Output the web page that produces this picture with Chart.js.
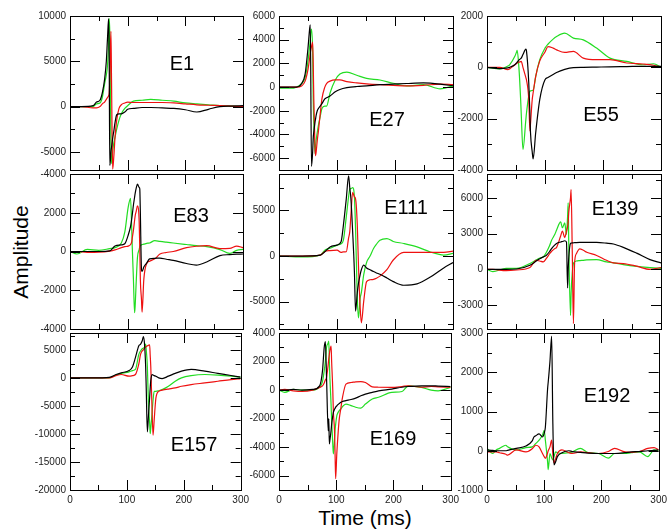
<!DOCTYPE html>
<html>
<head>
<meta charset="utf-8">
<script src="https://cdn.jsdelivr.net/npm/chart.js@4.4.0/dist/chart.umd.min.js"></script>
<style>
  body { margin: 0; background: #fff; width: 667px; height: 529px; position: relative; overflow: hidden;
         font-family: "Liberation Sans", Arial, sans-serif; }
  canvas { position: absolute; }
  .lab { position: absolute; font-size: 20px; line-height: 20px; color: #000; transform: translate(-50%, -50%); white-space: nowrap; }
  .axis { position: absolute; font-size: 21px; line-height: 21px; color: #000; white-space: nowrap; }
</style>
</head>
<body>
<div class="axis" style="left:20px;top:252px;transform:translate(-50%,-50%) rotate(-90deg)">Amplitude</div>
<div class="axis" style="left:365px;top:517px;transform:translate(-50%,-50%)">Time (ms)</div>
<script>
// ---- data (time in ms, amplitude) ----
const xTicks = [0, 100, 200, 300];

const e1Time  = [0, 20, 40, 46, 52, 56, 60, 63, 65, 67, 68, 69, 70, 71, 72, 73, 74, 76, 78, 81, 85, 89, 95, 100, 110, 125, 140, 160, 180, 200, 220, 240, 260, 280, 300];
const e1Black = [0, 0, 100, 500, 700, 1500, 3000, 5000, 7500, 9700, 5000, -6500, -6000, -5000, -4500, -4000, -3500, -2700, -1800, -900, -800, -800, -600, -300, -200, -100, -100, -150, -200, -350, -600, -300, 0, 50, 100];
const e1Red   = [0, 0, -150, -150, 0, 300, 500, 800, 1000, 1200, 1500, 3000, 6000, 8300, 3000, -3000, -6900, -5500, -3500, -1500, -200, 200, 400, 500, 450, 450, 450, 450, 400, 300, 200, 150, 100, 50, 0];
const e1Green = [0, 0, 0, 300, 400, 1000, 2500, 3500, 4500, 7000, 9700, 8000, 2000, -4000, -6300, -6000, -5000, -4000, -3400, -2500, -1500, -800, -200, 100, 600, 700, 800, 700, 600, 400, 300, 200, 100, 50, 0];

const e27Time  = [0, 20, 30, 39, 45, 50, 53, 54, 56, 58, 59, 60, 62, 63, 64, 66, 68, 71, 74, 79, 82, 88, 97, 105, 117, 134, 151, 174, 197, 220, 249, 278, 300];
const e27Black = [0, 0, 0, 300, 1100, 3300, 5000, 5250, -6700, -5500, -4300, -3800, -3000, -2700, -2400, -2000, -1800, -1600, -1400, -1000, -900, -750, -400, -200, -50, 50, 100, 200, 250, 300, 350, 250, 100];
const e27Red   = [0, 0, 0, 100, 500, 1500, 2500, 2900, 3400, 3800, 2000, -1000, -5000, -5800, -5500, -4500, -3700, -2300, -1000, 0, 300, 500, 600, 600, 460, 350, 270, 200, 150, 100, 150, 250, 200];
const e27Green = [-100, -100, 0, 300, 800, 2200, 3500, 4000, 4900, 3000, -1000, -3000, -5600, -5000, -4500, -3800, -3200, -2500, -1800, -1600, -1600, -500, 600, 1100, 1270, 1000, 730, 600, 320, 100, 200, -150, 100];

const e55Time  = [0, 22, 36, 39, 48, 51, 52, 55, 58, 59, 62, 67, 68, 72, 74, 75, 78, 79.5, 84, 91, 100, 105, 114, 120, 134, 149, 166, 189, 212, 241, 269, 287, 300];
const e55Black = [0, -50, -20, 0, 100, 170, 200, 280, 340, 360, 500, 710, 650, -600, -1800, -2540, -3300, -3570, -2540, -1250, -480, -400, -280, -200, -80, -10, 0, 10, 20, 30, 40, 40, 40];
const e55Red   = [0, 0, -90, -60, 100, 150, 170, 200, 220, 230, 0, -400, -480, -1250, -2480, -2200, -1250, -1000, -350, 250, 600, 810, 750, 680, 580, 620, 360, 300, 300, 170, 130, 80, 0];
const e55Green = [0, -60, 50, 100, 430, 600, 660, 0, -1250, -1800, -3200, -2030, -1800, -1100, -930, -920, -900, -900, -350, 300, 750, 900, 1100, 1200, 1330, 1140, 1070, 750, 360, 230, 100, 140, 0];

const e83Time  = [0, 12, 30, 50, 69, 78, 89, 95, 101, 105, 107, 108, 110, 112, 113, 115, 117, 120, 121, 122, 124, 125, 128, 133, 138, 147, 156, 167, 179, 202, 219, 237, 260, 277, 289, 300];
const e83Black = [0, 0, 0, 0, 30, 280, 340, 400, 850, 1300, 1670, 1900, 2400, 2800, 3000, 3300, 3480, 3300, 3230, 2000, -950, -1030, -800, -600, -380, -350, -340, -400, -460, -620, -700, -540, -210, -160, -140, -130];
const e83Red   = [0, 0, -50, -40, 20, 80, 200, 250, 280, 360, 500, 700, 1100, 1600, 1840, 2100, 2360, 1500, 200, -1440, -2500, -3130, -1440, -620, -500, -380, -130, -50, 0, 200, 270, 300, 150, 160, 280, 200];
const e83Green = [0, -130, 110, 60, 150, 200, 440, 1000, 2300, 2740, 1200, 200, -1440, -3160, -2800, -1440, -300, 110, 250, 300, 350, 360, 380, 420, 440, 560, 520, 480, 440, 360, 300, 250, 100, -100, 60, 110];

const e111Time  = [0, 40, 71, 79, 88, 100, 107, 111, 116, 120, 122, 124, 127, 130, 132, 135, 137, 140, 142, 146, 151, 157, 163, 168, 174, 186, 197, 215, 238, 261, 284, 300];
const e111Black = [0, 0, 100, 470, 1000, 1200, 1560, 3370, 6270, 8800, 7500, 6270, 2650, -1700, -6050, -4000, -3000, -2000, -1500, -1000, -1300, -1500, -1700, -1850, -2000, -2400, -2800, -3200, -3050, -2300, -1300, -720];
const e111Red   = [0, 0, 100, 500, 600, 650, 400, 450, 470, 2000, 2650, 4500, 7000, 6500, 6270, 3370, -980, -5700, -7320, -5000, -2800, -2600, -2550, -2430, -2200, -1500, -430, 400, 400, 400, 400, 540];
const e111Green = [0, -100, 100, 650, 850, 1200, 1350, 1740, 4300, 6500, 7350, 7400, 7500, 6500, 3000, -4600, -6780, -4600, -4000, -2070, -700, 0, 830, 1300, 1740, 1920, 1600, 1380, 1010, 450, 110, 290];

const e139Time  = [0, 10, 33, 51, 74, 85, 91, 97, 102, 108, 111, 117, 120, 127, 130, 134, 137, 139, 140, 141, 144, 145, 147, 149, 151, 154, 160, 166, 172, 189, 206, 218, 235, 258, 281, 300];
const e139Black = [0, 0, 0, 30, 350, 700, 900, 1050, 1170, 1500, 1720, 2050, 2180, 2300, 2340, 2400, 2300, -1550, 0, 1000, 2180, 2200, 2220, 2230, 2240, 2250, 2260, 2260, 2260, 2260, 2200, 2130, 1850, 1360, 820, 540];
const e139Red   = [0, 0, -110, -50, 160, 760, 700, 630, 900, 1310, 1500, 1750, 1850, 2800, 3220, 2670, 3200, 3600, 4000, 4800, 6000, 6700, 1500, -4550, 490, 1310, 1720, 1600, 1440, 1170, 760, 540, 490, 270, 0, 160];
const e139Green = [0, -190, 80, 80, 490, 800, 950, 1040, 1400, 2000, 2400, 2940, 3300, 3980, 3490, 3900, 2940, 4500, 5590, 2000, -3870, -2000, -300, 500, 630, 700, 740, 760, 790, 820, 630, 550, 400, 250, 150, 80];

const e157Time  = [0, 40, 69, 81, 90, 104, 110, 115, 121, 124, 127, 129, 131, 133, 134, 136, 138, 140, 141, 142, 144, 146, 148, 151, 156, 162, 173, 185, 196, 213, 237, 260, 283, 300];
const e157Black = [0, 0, 100, 600, 900, 1300, 2000, 3610, 5720, 6000, 6630, 7350, 6000, 2000, -1800, -9640, -6600, -3500, -1800, -500, 600, 500, 400, 300, 0, -120, 300, 800, 1200, 1500, 1200, 800, 420, 120];
const e157Red   = [0, 0, 0, 400, 600, 300, 400, 600, 2500, 4200, 4800, 5000, 5300, 5500, 5600, 5700, 5800, 5900, 4000, 2000, -4800, -10240, -7500, -3600, -2400, -2200, -2000, -1800, -1500, -1200, -900, -600, -300, -120];
const e157Green = [0, 0, 0, 500, 800, 1080, 1300, 1500, 4200, 4800, 5200, 5300, 5500, 6020, 5000, 2000, -4800, -8000, -9940, -9000, -6600, -4000, -2400, -2400, -2300, -2100, -1500, -600, 0, 400, 600, 500, 300, 100];

const e169Time  = [0, 10, 25, 40, 59, 71, 76, 79, 81, 83, 86, 87, 88, 89, 91, 92, 94, 95, 97, 98, 99, 101, 102, 105, 108, 111, 117, 126, 134, 143, 151, 163, 174, 197, 215, 226, 249, 266, 278, 300];
const e169Black = [0, 0, 50, 0, 50, 300, 1350, 2980, 3400, 1000, -2840, -2000, -3770, -3500, -2840, -2400, -1800, -1560, -1350, -1280, -1200, -1100, -1050, -950, -860, -800, -740, -660, -560, -400, -280, -160, -50, 70, 200, 250, 300, 300, 280, 250];
const e169Red   = [0, 50, -50, -100, 0, 190, 300, 500, 700, 880, 1800, 2200, 2510, 2800, 3090, 2000, 0, -1500, -2840, -4500, -6210, -4470, -3800, -2140, -1300, -510, 420, 530, 580, 600, 530, 230, 200, 190, 250, 300, 200, 250, 230, 200];
const e169Green = [0, -160, 50, 0, 0, 200, 600, 1350, 2000, 2980, 3300, 3440, 2000, 800, -1000, -2140, -3800, -4470, -3500, -2840, -2400, -1800, -1670, -1450, -1330, -1150, -980, -1090, -1200, -1260, -980, -630, -500, -160, -100, 300, 190, 0, -50, 190];

const e192Time  = [0, 10, 16, 22, 33, 36, 51, 68, 79, 82, 85, 91, 97, 100, 102, 106, 107, 110, 113, 115, 117, 120, 123, 131, 143, 149, 163, 177, 195, 212, 223, 241, 252, 266, 281, 292, 300];
const e192Black = [20, 10, 0, 0, 0, 10, 60, 120, 250, 350, 380, 430, 350, 450, 600, 1600, 1750, 2270, 2920, 770, -360, -280, -150, -50, 0, -20, -40, -60, -70, -70, -70, -50, -30, -20, 0, 10, 20];
const e192Red   = [-30, -30, -30, -50, -90, -110, 20, -30, 50, 100, 140, 100, -70, -150, -190, -50, 0, 100, 270, -70, -310, -200, -70, 20, -50, -70, -30, -50, -70, -20, 60, -30, -40, -20, 60, 80, 20];
const e192Green = [60, -70, 20, 60, 140, 100, 20, 80, 100, 130, 180, 270, 400, 520, 270, -300, -480, -70, -180, -230, -150, -30, -50, -70, -50, -30, 60, -50, -70, -190, -70, -70, -50, -30, -150, 20, 0];

const panels = [
  { name: 'E1',   time: e1Time,   black: e1Black,   red: e1Red,   green: e1Green,   yMin: -7000,  yMax: 10000, major: 5000, minor: 2500 },
  { name: 'E27',  time: e27Time,  black: e27Black,  red: e27Red,  green: e27Green,  yMin: -7000,  yMax: 6000,  major: 2000, minor: 1000 },
  { name: 'E55',  time: e55Time,  black: e55Black,  red: e55Red,  green: e55Green,  yMin: -4000,  yMax: 2000,  major: 2000, minor: 1000 },
  { name: 'E83',  time: e83Time,  black: e83Black,  red: e83Red,  green: e83Green,  yMin: -4000,  yMax: 4000,  major: 2000, minor: 1000, topText: '-4000' },
  { name: 'E111', time: e111Time, black: e111Black, red: e111Red, green: e111Green, yMin: -8000,  yMax: 9000,  major: 5000, minor: 2500 },
  { name: 'E139', time: e139Time, black: e139Black, red: e139Red, green: e139Green, yMin: -5000,  yMax: 8000,  major: 3000, minor: 1500 },
  { name: 'E157', time: e157Time, black: e157Black, red: e157Red, green: e157Green, yMin: -20000, yMax: 8000,  major: 5000, minor: 2500 },
  { name: 'E169', time: e169Time, black: e169Black, red: e169Red, green: e169Green, yMin: -7000,  yMax: 4000,  major: 2000, minor: 1000 },
  { name: 'E192', time: e192Time, black: e192Black, red: e192Red, green: e192Green, yMin: -1000,  yMax: 3000,  major: 1000, minor: 500 }
];

// ---- layout (page pixels) ----
const colL = [70, 279, 487], colR = [243, 453, 661];
const rowT = [14, 172, 331], rowB = [172, 331, 490];
const labelPos = [[182, 63], [387, 119], [601, 114], [191, 215], [406, 207], [615, 208], [194, 444], [393, 438], [607, 395]];

const tickFont = { family: '"Liberation Sans", Arial, sans-serif', size: 10 };

// box + inward ticks on all four sides
const frame = {
  id: 'frame',
  afterDatasetsDraw(chart) {
    const { ctx, chartArea: a, scales: { x, y } } = chart;
    const p = chart.options.plugins.frame;
    ctx.save();
    ctx.strokeStyle = '#000';
    ctx.lineWidth = 1;
    ctx.beginPath();
    for (let t = 0; t <= 300; t += 50) {
      const px = Math.round(x.getPixelForValue(t)) + 0.5;
      const len = t % 100 === 0 ? 10 : 5;
      ctx.moveTo(px, a.top); ctx.lineTo(px, a.top + len);
      ctx.moveTo(px, a.bottom); ctx.lineTo(px, a.bottom - len);
    }
    for (let v = Math.ceil(p.yMin / p.minor) * p.minor; v <= p.yMax; v += p.minor) {
      const py = Math.round(y.getPixelForValue(v)) + 0.5;
      const len = v % p.major === 0 ? 10 : 5;
      ctx.moveTo(a.left, py); ctx.lineTo(a.left + len, py);
      ctx.moveTo(a.right, py); ctx.lineTo(a.right - len, py);
    }
    ctx.stroke();
    ctx.strokeRect(Math.round(a.left) + 0.5, Math.round(a.top) + 0.5, Math.round(a.right - a.left), Math.round(a.bottom - a.top));
    ctx.restore();
  }
};

panels.forEach((p, i) => {
  const c = i % 3, r = Math.floor(i / 3);
  const last = r === 2;
  const axisW = 50, padR = 10, padT = 8, xAxisH = 20;
  const L = colL[c], R = colR[c], T = rowT[r], B = rowB[r];

  const cv = document.createElement('canvas');
  cv.width = R - L + axisW + padR;
  cv.height = B - T + padT + (last ? xAxisH + 2 : 8);
  cv.style.left = (L - axisW) + 'px';
  cv.style.top = (T - padT) + 'px';
  document.body.appendChild(cv);

  const lab = document.createElement('div');
  lab.className = 'lab';
  lab.textContent = p.name;
  lab.style.left = labelPos[i][0] + 'px';
  lab.style.top = labelPos[i][1] + 'px';
  document.body.appendChild(lab);

  const yVals = [];
  for (let v = Math.ceil(p.yMin / p.major) * p.major; v <= p.yMax; v += p.major) yVals.push(v);

  const pts = arr => p.time.map((t, k) => ({ x: t, y: arr[k] }));

  new Chart(cv, {
    type: 'line',
    data: {
      datasets: [
        { data: pts(p.black), borderColor: '#000000' },
        { data: pts(p.red),   borderColor: '#ee1111' },
        { data: pts(p.green), borderColor: '#22dd22' }
      ]
    },
    options: {
      responsive: false,
      animation: false,
      layout: { padding: { left: 0, right: padR, top: padT, bottom: last ? 2 : 8 } },
      elements: {
        point: { radius: 0 },
        line: { borderWidth: 1.2, cubicInterpolationMode: 'monotone', fill: false }
      },
      plugins: {
        legend: { display: false },
        tooltip: { enabled: false },
        frame: { yMin: p.yMin, yMax: p.yMax, major: p.major, minor: p.minor }
      },
      scales: {
        x: {
          type: 'linear', min: 0, max: 300, display: last,
          grid: { display: false, drawTicks: false },
          border: { display: false },
          afterBuildTicks: s => { s.ticks = xTicks.map(v => ({ value: v })); },
          afterFit: s => { s.height = last ? xAxisH : 0; },
          ticks: { padding: 4, maxRotation: 0, autoSkip: false, font: tickFont, color: '#222' }
        },
        y: {
          type: 'linear', min: p.yMin, max: p.yMax,
          grid: { display: false, drawTicks: false },
          border: { display: false },
          afterBuildTicks: s => { s.ticks = yVals.map(v => ({ value: v })); },
          afterFit: s => { s.width = axisW; },
          ticks: {
            padding: 4, autoSkip: false, font: tickFont, color: '#222',
            callback: v => (p.topText && v === p.yMax) ? p.topText : String(v)
          }
        }
      }
    },
    plugins: [frame]
  });
});
</script>
</body>
</html>
